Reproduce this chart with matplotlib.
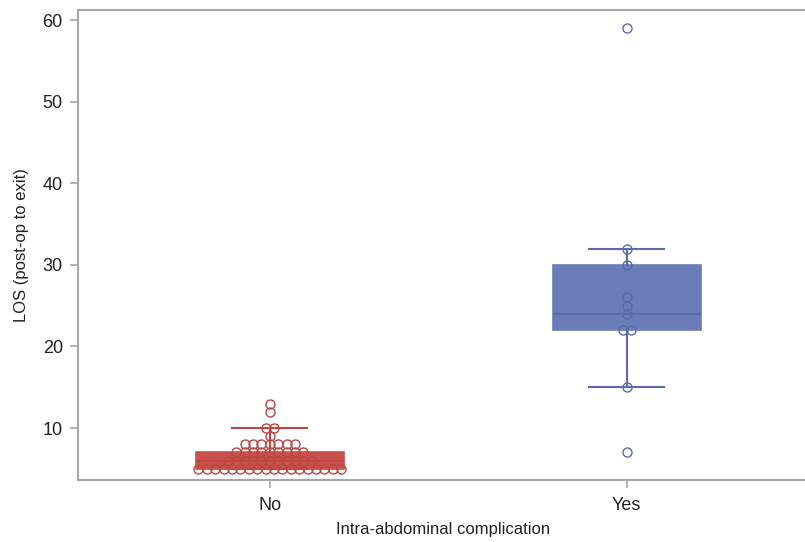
import numpy as np
import matplotlib
matplotlib.use("Agg")
import matplotlib.pyplot as plt

plt.rcParams['font.family'] = ['Liberation Sans', 'DejaVu Sans']

groups = ["No", "Yes"]

los_no = [5] * 18 + [6] * 11 + [7] * 9 + [8] * 7 + [9] + [10] * 2 + [12, 13]
los_yes = [7, 15, 22, 22, 24, 25, 26, 30, 32, 59]

# box summary as drawn
box_q1 = [5, 22]
box_med = [6, 24]
box_q3 = [7, 30]
whisk_lo = [5, 15]
whisk_hi = [10, 32]

fill_colors = ["#c9514c", "#6b7db8"]
edge_colors = ["#bd4742", "#5a6bab"]

fig = plt.figure(figsize=(8.05, 5.42), dpi=100)
ax = fig.add_axes([0.097, 0.1144, 0.906, 0.8671])

for i, g in enumerate(groups):
    stats = [dict(med=box_med[i], q1=box_q1[i], q3=box_q3[i],
                  whislo=whisk_lo[i], whishi=whisk_hi[i], fliers=[], label=g)]
    ax.bxp(stats, positions=[i], widths=0.415, patch_artist=True,
           showfliers=False,
           boxprops=dict(facecolor=fill_colors[i], edgecolor=fill_colors[i], linewidth=1.2),
           medianprops=dict(color=edge_colors[i], linewidth=1.5),
           whiskerprops=dict(color=edge_colors[i], linewidth=1.5),
           capprops=dict(color=edge_colors[i], linewidth=1.5),
           capwidths=0.21, zorder=2)

# stacked dots: duplicates spread side by side
step = 0.0235
for i, vals in enumerate([los_no, los_yes]):
    vals = np.array(vals)
    xs, ys = [], []
    for v in np.unique(vals):
        n = int(np.sum(vals == v))
        offs = (np.arange(n) - (n - 1) / 2) * step
        xs.extend(i + offs)
        ys.extend([v] * n)
    ax.plot(xs, ys, linestyle="none", marker="o", markersize=6.5,
            markerfacecolor="none", markeredgecolor=edge_colors[i],
            markeredgewidth=1.0, zorder=3)

ax.set_xlim(-0.537, 1.506)
ax.set_ylim(3.63, 61.23)
ax.set_xticks(range(len(groups)))
ax.set_xticklabels(groups)
ax.set_yticks([10, 20, 30, 40, 50, 60])

for s in ax.spines.values():
    s.set_color("#a8a8a8")
    s.set_linewidth(1.5)
ax.tick_params(axis="both", colors="#a8a8a8", length=6, width=1.2,
               labelcolor="#222222", labelsize=13, pad=5)
ax.tick_params(axis="x", pad=6)

ax.set_xlabel("Intra-abdominal complication", fontsize=12, color="#222222", labelpad=6)
ax.set_ylabel("LOS (post-op to exit)", fontsize=12, color="#222222", labelpad=10)

fig.savefig("out.png", dpi=100)
